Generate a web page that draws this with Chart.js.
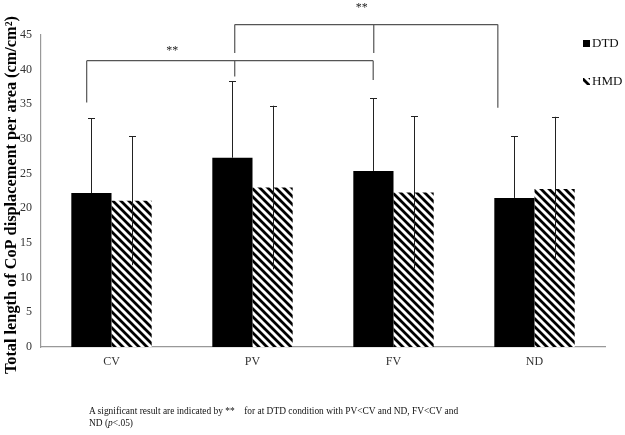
<!DOCTYPE html>
<html>
<head>
<meta charset="utf-8">
<script src="https://cdn.jsdelivr.net/npm/chart.js@4"></script>
<style>
	body { margin: 0; background: #fff; }
	#wrap { position: relative; width: 625px; height: 435px; }
	#note {
		position: absolute; left: 89px; top: 404px; white-space: nowrap;
		font-family: "Liberation Serif", serif; font-size: 11px; line-height: 12px; color: #111;
		transform: scaleX(0.855); transform-origin: left top;
	}
</style>
</head>
<body>
<div id="wrap">
	<canvas id="chart" width="625" height="435"></canvas>
	<div id="note">A significant result are indicated by **&nbsp;&nbsp;&nbsp; for at DTD condition with PV&lt;CV and ND, FV&lt;CV and<br>ND (<i>p</i>&lt;.05)</div>
</div>
<script>
// データ
const conditions = ['CV', 'PV', 'FV', 'ND'];
const seriesNames = ['DTD', 'HMD'];
const dtdMean = [22.2, 27.3, 25.4, 21.5];
const dtdSd = [10.8, 11.0, 10.5, 8.9];
const hmdMean = [21.1, 23.0, 22.3, 22.8];
const hmdSd = [9.3, 11.8, 11.0, 10.4];
const yTicks = [0, 5, 10, 15, 20, 25, 30, 35, 40, 45];
// 有意差のブラケット (x: カテゴリ位置, y: 値)
const brackets = [
	{ from: -0.176, to: 1.856, y: 41.3, legs: [[-0.176, 35.25], [0.874, 39.0], [1.856, 38.5]], mark: [0.43, 42.7] },
	{ from: 0.874, to: 2.74, y: 46.5, legs: [[0.874, 42.4], [1.86, 42.4], [2.74, 34.5]], mark: [1.775, 48.9] },
];

const serif = '"Liberation Serif", "Times New Roman", serif';

function makeHatch(ctx) {
	const c = document.createElement('canvas');
	c.width = 8; c.height = 8;
	const g = c.getContext('2d');
	g.fillStyle = '#fff';
	g.fillRect(0, 0, 8, 8);
	g.strokeStyle = '#000';
	g.lineWidth = 2.8;
	g.beginPath();
	g.moveTo(-2, -2); g.lineTo(10, 10);
	g.moveTo(-2, 6); g.lineTo(2, 10);
	g.moveTo(6, -2); g.lineTo(10, 2);
	g.stroke();
	return ctx.createPattern(c, 'repeat');
}

const extras = {
	id: 'extras',
	afterDatasetsDraw(chart) {
		const ctx = chart.ctx;
		const x = chart.scales.x, y = chart.scales.y;
		const sds = [dtdSd, hmdSd];
		ctx.save();
		// エラーバー (DTDは上側のみ見える)
		ctx.strokeStyle = '#222';
		ctx.lineWidth = 1;
		chart.data.datasets.forEach((ds, i) => {
			chart.getDatasetMeta(i).data.forEach((bar, j) => {
				const top = y.getPixelForValue(ds.data[j] + sds[i][j]);
				const bot = i === 0 ? bar.y : y.getPixelForValue(ds.data[j] - sds[i][j]);
				const cx = Math.round(bar.x) + 0.5;
				ctx.beginPath();
				ctx.moveTo(cx, bot); ctx.lineTo(cx, top);
				ctx.moveTo(cx - 3.5, Math.round(top) + 0.5); ctx.lineTo(cx + 3.5, Math.round(top) + 0.5);
				ctx.stroke();
			});
		});
		// ブラケット
		ctx.strokeStyle = '#555';
		ctx.lineWidth = 1.2;
		ctx.fillStyle = '#222';
		ctx.font = '12px ' + serif;
		ctx.textAlign = 'center';
		ctx.textBaseline = 'middle';
		brackets.forEach(b => {
			const yy = y.getPixelForValue(b.y);
			ctx.beginPath();
			ctx.moveTo(x.getPixelForValue(b.from), yy);
			ctx.lineTo(x.getPixelForValue(b.to), yy);
			b.legs.forEach(l => {
				const lx = x.getPixelForValue(l[0]);
				ctx.moveTo(lx, yy);
				ctx.lineTo(lx, y.getPixelForValue(l[1]));
			});
			ctx.stroke();
			ctx.fillText('**', x.getPixelForValue(b.mark[0]), y.getPixelForValue(b.mark[1]));
		});
		// 凡例
		ctx.textAlign = 'left';
		ctx.font = '13px ' + serif;
		chart.data.datasets.forEach((ds, i) => {
			const ly = 44 + i * 38;
			ctx.fillStyle = ds.backgroundColor;
			ctx.fillRect(583, ly - 4, 7, 7);
			ctx.fillStyle = '#111';
			ctx.fillText(ds.label, 592, ly);
		});
		ctx.restore();
	}
};

window.addEventListener('load', () => {
	const ctx = document.getElementById('chart').getContext('2d');
	const hatch = makeHatch(ctx);

	let config = {
		type: 'bar',
		data: {
			labels: conditions,
			datasets: [
				{ label: seriesNames[0], data: dtdMean, backgroundColor: '#000' },
				{ label: seriesNames[1], data: hmdMean, backgroundColor: hatch },
			]
		},
		options: {
			responsive: false,
			animation: false,
			layout: { padding: { left: 2, right: 20, top: 35, bottom: 58 } },
			datasets: { bar: { barPercentage: 1, categoryPercentage: 0.57 } },
			plugins: {
				legend: { display: false },
				tooltip: { enabled: false },
			},
			scales: {
				x: {
					grid: { display: false, drawTicks: false },
					border: { color: '#999', width: 1.2 },
					ticks: { color: '#333', font: { family: serif, size: 12 }, padding: 8 },
					afterFit(s) { s.height = 30; },
				},
				y: {
					min: 0,
					max: 45,
					afterBuildTicks(s) { s.ticks = yTicks.map(v => ({ value: v })); },
					grid: { display: false, drawTicks: false },
					border: { color: '#999', width: 1.2 },
					ticks: { color: '#333', font: { family: serif, size: 12 }, padding: 9 },
					title: {
						display: true,
						text: 'Total length of CoP displacement per area (cm/cm²)\u2002',
						color: '#000',
						font: { family: serif, size: 16.3, weight: 'bold' },
						padding: { top: 0, bottom: 0 },
					},
					afterFit(s) { s.width = 39; },
				}
			}
		},
		plugins: [extras]
	};
	new Chart(ctx, config);
});
</script>
</body>
</html>
